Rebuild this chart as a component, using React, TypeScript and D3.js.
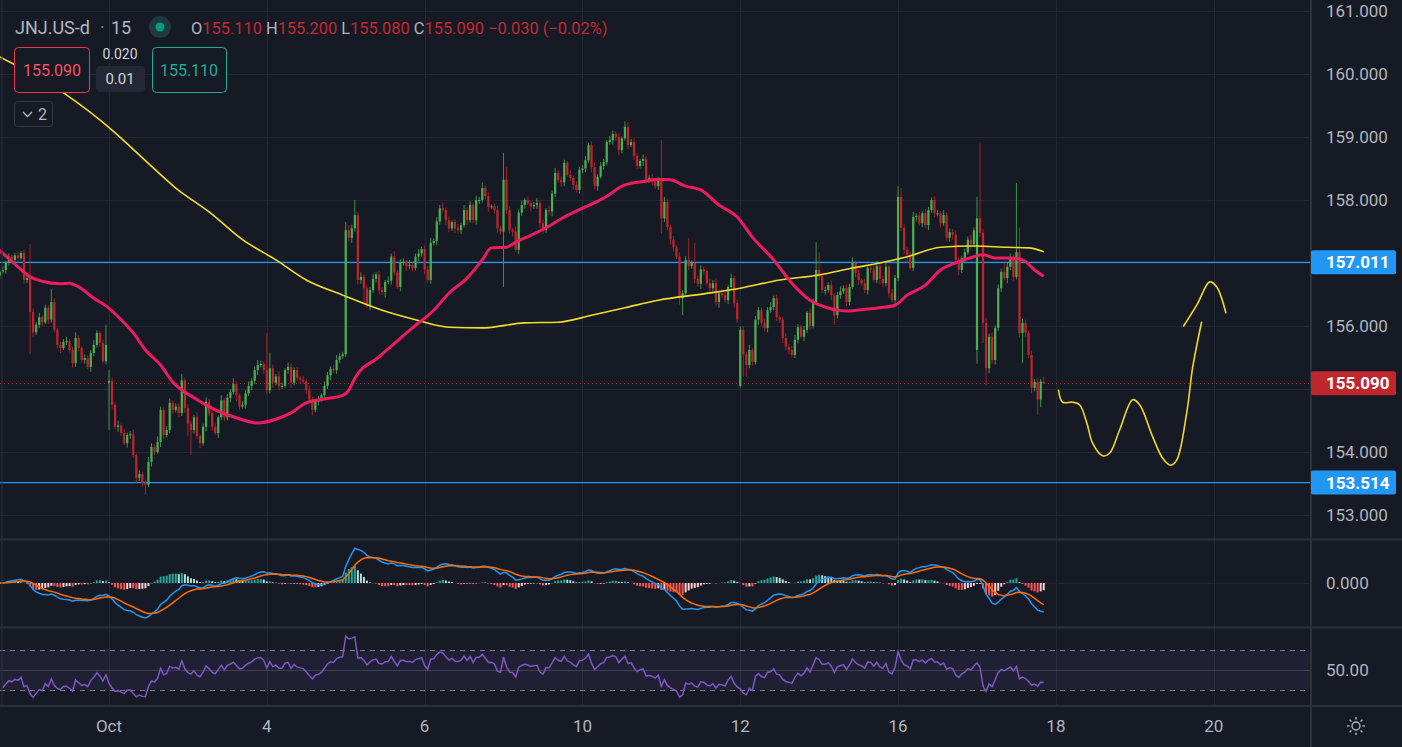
import { useEffect, useRef } from 'react';
import * as d3 from 'd3';

// 15-minute closes, one row per session (first row is the tail of the previous week)
const closes = [
  156.86, 156.89, 157.0, 157.1, 157.05, 157.12, 157.08, 157.16, 156.73, 156.76,
  156.22, 155.9, 156.02, 156.14, 156.06, 156.29, 156.1, 156.38, 155.94, 155.7,
  155.65, 155.75, 155.76, 155.62, 155.41, 155.81, 155.65, 155.46, 155.49, 155.35,
  155.57, 155.7, 155.89, 155.73, 155.44, 155.7,
  // Oct 2
  155.13, 154.75, 154.4, 154.42, 154.3, 154.14, 154.27, 154.28, 153.95, 153.59,
  153.65, 153.51, 153.48, 153.84, 154.08, 154.0, 154.16, 154.67, 154.27, 154.35,
  154.78, 154.67, 154.72, 154.62, 155.14, 154.7,
  // Oct 3
  154.45, 154.35, 154.55, 154.25, 154.14, 154.4, 154.8, 154.62, 154.4, 154.3,
  154.55, 154.82, 154.55, 154.86, 154.95, 155.08, 154.9, 154.72, 154.75, 154.93,
  155.05, 155.13, 155.3, 155.38, 155.4, 155.3,
  // Oct 4
  154.98, 155.33, 155.1, 155.2, 155.05, 155.05, 155.3, 155.35, 155.1, 155.3,
  155.18, 155.15, 155.12, 154.98, 154.83, 154.67, 154.8, 154.83, 154.9, 155.05,
  155.22, 155.32, 155.3, 155.46, 155.52, 155.55,
  // Oct 5
  157.52, 157.4, 157.55, 157.76, 156.73, 156.78, 156.6, 156.33, 156.57, 156.75,
  156.82, 156.57, 156.54, 156.7, 156.72, 157.1, 156.85, 156.62, 157.0, 157.02,
  156.95, 156.97, 156.92, 157.1, 157.15, 157.22,
  // Oct 6
  156.9, 156.73, 157.32, 157.35, 157.66, 157.87, 157.84, 157.68, 157.55, 157.65,
  157.55, 157.52, 157.6, 157.84, 157.68, 157.92, 157.68, 158.0, 158.0, 158.19,
  158.06, 157.89, 157.9, 157.84, 157.55, 157.5,
  // Oct 9
  158.32, 157.84, 157.52, 157.5, 157.21, 157.8, 157.92, 158.0, 157.95, 157.9,
  157.92, 157.95, 157.63, 157.52, 157.84, 157.82, 158.1, 158.43, 158.32, 158.28,
  158.59, 158.4, 158.35, 158.24, 158.16, 158.48,
  // Oct 10
  158.5, 158.63, 158.87, 158.52, 158.22, 158.37, 158.54, 158.6, 158.92, 158.95,
  159.05, 159.0, 158.79, 158.98, 159.16, 158.87, 158.92, 158.7, 158.54, 158.62,
  158.65, 158.32, 158.35, 158.3, 158.22, 158.32,
  // Oct 11
  157.71, 157.97, 157.57, 157.37, 157.25, 157.1, 156.44, 156.52, 157.05, 156.95,
  157.0, 156.75, 156.67, 156.9, 156.87, 156.68, 156.6, 156.68, 156.38, 156.52,
  156.49, 156.41, 156.62, 156.76, 156.36, 156.1,
  // Oct 12
  155.94, 155.55, 155.38, 155.62, 155.43, 156.1, 156.25, 156.05, 155.97, 156.25,
  156.3, 156.44, 156.14, 156.1, 155.81, 155.67, 155.62, 155.54, 155.78, 155.98,
  155.83, 155.94, 156.21, 156.0, 156.38, 156.89,
  // Oct 13
  156.79, 156.57, 156.57, 156.65, 156.49, 156.17, 156.49, 156.55, 156.6, 156.38,
  156.62, 157.0, 156.84, 156.73, 156.68, 156.57, 156.92, 156.9, 156.73, 156.95,
  156.75, 156.68, 156.94, 156.52, 156.41, 156.76,
  // Oct 16
  158.05, 157.56, 157.21, 157.13, 156.92, 157.73, 157.75, 157.63, 157.79, 157.6,
  157.84, 158.0, 157.79, 157.79, 157.63, 157.76, 157.4, 157.49, 157.45, 157.05,
  156.89, 157.08, 157.17, 157.37, 157.3, 157.52,
  // Oct 17
  157.71, 157.48, 156.05, 155.33, 155.83, 155.46, 155.97, 156.6, 156.86, 156.76,
  156.94, 157.1, 156.78, 157.17, 155.89, 156.05, 155.89, 155.54, 155.02, 155.11,
  154.83, 155.12, 155.09,
];

// bars whose open is not the previous close (session gaps) [bar, open]
const gapOpens: [number, number][] = [
  [0, 156.8], [36, 155.1], [244, 155.05], [322, 155.62], [344, 155.11],
];

// wick lengths beyond the body, in cents
const wickUp = [
  4, 6, 3, 5, 3, 4, 6, 3, 5, 8, 54, 6, 4, 7, 3, 5, 4, 21, 6, 3, 5, 4, 7, 3, 5, 9, 4, 3, 6, 4, 5, 8, 4, 3, 6, 32,
  17, 5, 4, 8, 3, 6, 4, 5, 7, 3, 6, 4, 5, 8, 6, 4, 9, 5, 4, 6, 7, 4, 5, 6, 10, 4,
  6, 5, 4, 8, 3, 5, 7, 4, 6, 5, 3, 8, 4, 6, 5, 9, 4, 3, 6, 5, 7, 4, 6, 8, 5, 4,
  59, 25, 6, 4, 8, 5, 3, 7, 6, 4, 5, 3, 6, 4, 8, 5, 4, 6, 3, 7, 5, 4, 6, 8, 5, 4,
  13, 8, 6, 24, 5, 7, 4, 6, 5, 8, 4, 6, 5, 3, 7, 5, 9, 4, 6, 5, 3, 8, 4, 5, 7, 4,
  6, 5, 8, 4, 7, 5, 9, 4, 6, 3, 5, 7, 4, 8, 5, 6, 4, 7, 5, 9, 4, 6, 3, 5, 7, 4,
  43, 20, 6, 4, 8, 5, 7, 3, 6, 4, 5, 8, 4, 6, 3, 7, 5, 8, 4, 6, 5, 3, 7, 4, 6, 5,
  5, 7, 4, 6, 8, 4, 6, 5, 3, 7, 5, 4, 6, 3, 9, 8, 5, 6, 4, 3, 7, 5, 4, 6, 5, 4,
  63, 8, 5, 4, 6, 3, 7, 5, 6, 35, 4, 32, 5, 6, 4, 3, 7, 5, 8, 4, 6, 5, 3, 7, 4, 6,
  5, 6, 4, 8, 3, 6, 5, 4, 7, 5, 8, 4, 6, 3, 5, 7, 4, 6, 8, 5, 4, 6, 3, 7, 5, 44,
  28, 5, 6, 4, 7, 3, 5, 8, 4, 6, 5, 9, 4, 6, 3, 7, 5, 4, 6, 8, 5, 4, 6, 3, 7, 5,
  17, 14, 6, 4, 5, 8, 4, 6, 3, 7, 5, 4, 6, 5, 3, 8, 4, 6, 5, 7, 4, 3, 6, 5, 8, 4,
  34, 119, 6, 8, 5, 7, 4, 6, 5, 14, 6, 5, 4, 110, 39, 6, 5, 4, 7, 5, 6, 4, 9,
];
const wickDown = [
  5, 3, 6, 4, 5, 3, 7, 4, 6, 5, 67, 8, 4, 5, 6, 3, 7, 5, 4, 6, 8, 3, 5, 4, 7, 6, 5, 4, 6, 3, 8, 5, 4, 6, 3, 5,
  75, 6, 4, 8, 5, 3, 7, 6, 4, 9, 5, 6, 16, 4, 7, 5, 3, 8, 6, 4, 5, 7, 4, 6, 5, 8,
  20, 40, 6, 5, 8, 4, 7, 5, 6, 3, 8, 4, 6, 5, 7, 4, 9, 5, 3, 6, 4, 7, 5, 8, 4, 6,
  6, 5, 8, 4, 7, 5, 3, 6, 8, 4, 5, 7, 4, 6, 5, 9, 4, 6, 3, 7, 5, 8, 4, 6, 5, 4,
  4, 6, 8, 5, 7, 6, 25, 5, 8, 4, 6, 7, 5, 9, 4, 6, 5, 3, 7, 4, 8, 5, 6, 4, 7, 5,
  8, 5, 6, 4, 7, 5, 3, 8, 6, 4, 7, 5, 6, 3, 8, 4, 5, 7, 6, 4, 5, 8, 3, 6, 7, 5,
  88, 6, 5, 8, 4, 7, 5, 6, 3, 8, 4, 6, 7, 5, 4, 6, 8, 5, 4, 7, 6, 3, 5, 8, 4, 6,
  5, 6, 4, 8, 5, 7, 3, 6, 5, 4, 7, 6, 8, 5, 4, 6, 3, 7, 5, 4, 8, 6, 5, 7, 4, 6,
  24, 6, 5, 8, 7, 4, 10, 27, 5, 6, 4, 7, 5, 8, 6, 4, 7, 5, 6, 9, 5, 4, 6, 5, 7, 5,
  3, 36, 19, 5, 6, 4, 8, 5, 6, 7, 4, 5, 6, 5, 8, 6, 7, 4, 5, 6, 3, 7, 5, 6, 4, 5,
  6, 5, 7, 4, 8, 15, 5, 6, 4, 7, 5, 3, 6, 8, 4, 5, 7, 6, 4, 5, 8, 6, 5, 7, 4, 6,
  5, 6, 8, 13, 3, 5, 7, 4, 6, 5, 8, 4, 6, 5, 7, 4, 5, 6, 8, 4, 8, 5, 6, 4, 7, 5,
  22, 7, 32, 27, 8, 6, 7, 5, 6, 4, 8, 5, 6, 4, 7, 48, 6, 5, 8, 6, 24, 12, 1,
];

// moving averages [bar, price]
const slowMa: [number, number][] = [
  [0, 160.27], [21, 159.7], [37, 159.11], [47, 158.67], [58, 158.19], [69, 157.81],
  [80, 157.37], [91, 157.05], [101, 156.73], [113, 156.49], [126, 156.25], [137, 156.1],
  [148, 155.98], [159, 155.97], [173, 156.05], [184, 156.06], [195, 156.17], [206, 156.29],
  [217, 156.41], [232, 156.51], [244, 156.6], [257, 156.73], [270, 156.81], [281, 156.92],
  [290, 157.0], [299, 157.1], [310, 157.25], [321, 157.27], [332, 157.25], [339, 157.24],
  [344, 157.18],
];
const fastMa: [number, number][] = [
  [0, 157.2], [6, 156.94], [10, 156.78], [14, 156.71], [20, 156.67], [23, 156.68],
  [26, 156.62], [31, 156.44], [35, 156.32], [40, 156.1], [44, 155.89], [48, 155.62],
  [53, 155.38], [57, 155.11], [64, 154.86], [71, 154.67], [77, 154.56], [85, 154.46],
  [91, 154.52], [96, 154.62], [101, 154.78], [107, 154.84], [113, 154.9], [115, 154.98],
  [117, 155.17], [125, 155.51], [136, 155.97], [143, 156.25], [148, 156.52], [154, 156.76],
  [159, 157.05], [162, 157.24], [167, 157.25], [170, 157.33], [175, 157.44], [180, 157.56],
  [186, 157.73], [193, 157.89], [199, 158.03], [206, 158.24], [213, 158.3], [217, 158.33],
  [221, 158.32], [226, 158.22], [231, 158.16], [237, 157.92], [243, 157.73], [248, 157.41],
  [255, 157.05], [261, 156.68], [267, 156.41], [272, 156.3], [279, 156.24], [286, 156.27],
  [290, 156.29], [295, 156.33], [299, 156.49], [305, 156.65], [310, 156.89], [316, 157.02],
  [321, 157.1], [324, 157.13], [328, 157.08], [332, 157.08], [337, 157.05], [341, 156.89],
  [344, 156.79],
];

// hand-drawn projection strokes [bar, price]
const projectionA: [number, number][] = [
  [348.9, 154.98], [350.2, 154.79], [353.5, 154.79], [355.8, 154.75], [358.2, 154.46],
  [360.1, 154.14], [363.4, 153.94], [365.7, 153.98], [369.0, 154.35], [373.3, 154.83],
  [375.6, 154.75], [379.9, 154.24], [383.2, 153.9], [385.8, 153.79], [387.8, 153.87],
  [391.1, 154.62], [393.1, 155.35], [396.0, 156.06],
];
const projectionB: [number, number][] = [
  [390.1, 156.0], [394.4, 156.33], [398.7, 156.7], [401.0, 156.62], [404.0, 156.21],
];

const levelLines = [157.011, 153.514];
const lastPrice = 155.09;
const priceTicks = [153, 154, 155, 156, 157, 158, 159, 160, 161];
const dayTicks: [number, string][] = [
  [36, 'Oct'], [88, '4'], [140, '6'], [192, '10'], [244, '12'], [296, '16'], [348, '18'], [400, '20'],
];

const FONT = 'Roboto, "Noto Sans", sans-serif';
const BG = '#161a25';
const GRID = '#232733';
const SEP = '#2c303c';
const AXIS_TEXT = '#b2b5be';
const LEGEND_RED = '#c4282f';
const UP = '#4caf50';
const DOWN = '#c2242b';

function ema(values: number[], n: number) {
  const k = 2 / (n + 1);
  const out: number[] = [];
  let prev = values[0];
  values.forEach((v, i) => {
    prev = i === 0 ? v : v * k + prev * (1 - k);
    out.push(prev);
  });
  return out;
}

export default function App() {
  const svgRef = useRef<SVGSVGElement>(null);

  useEffect(() => {
    if (!svgRef.current) return;
    document.body.style.margin = '0';

    const width = 1402;
    const height = 747;
    const plotRight = 1311;
    const mainBottom = 538;
    const macdTop = 541;
    const macdBottom = 626;
    const rsiTop = 629;
    const rsiBottom = 705;

    const svg = d3.select(svgRef.current);
    svg.selectAll('*').remove();
    svg.attr('width', width).attr('height', height).style('font-family', FONT);

    // Scales
    const x = d3.scaleLinear().domain([36, 400]).range([109, 1213.7]);
    const y = d3.scaleLinear().domain([153, 161]).range([515, 11]);
    const yRsi = d3.scaleLinear().domain([30, 70]).range([690, 650]);

    // Candles
    const candles = closes.map((c, i) => {
      const gap = gapOpens.find((g) => g[0] === i);
      const o = gap ? gap[1] : closes[i - 1];
      return {
        i,
        o,
        c,
        h: Math.max(o, c) + wickUp[i] / 100,
        l: Math.min(o, c) - wickDown[i] / 100,
      };
    });

    // MACD 12/26/9
    const e12 = ema(closes, 12);
    const e26 = ema(closes, 26);
    const macd = closes.map((_, i) => e12[i] - e26[i]);
    const signal = ema(macd, 9);
    const hist = macd.map((m, i) => m - signal[i]);
    const ext = d3.max([...macd, ...signal].map(Math.abs)) || 1;
    const yMacd = d3.scaleLinear().domain([-ext, ext]).range([583 + 35, 583 - 35]);

    // RSI 14 (Wilder), seeded with the first window's average
    const changes = closes.slice(1).map((c, i) => c - closes[i]);
    let avgGain = d3.mean(changes.slice(0, 14), (d) => Math.max(d, 0)) || 0;
    let avgLoss = d3.mean(changes.slice(0, 14), (d) => Math.max(-d, 0)) || 0;
    const rsi: [number, number][] = [];
    changes.forEach((ch, k) => {
      avgGain = (avgGain * 13 + Math.max(ch, 0)) / 14;
      avgLoss = (avgLoss * 13 + Math.max(-ch, 0)) / 14;
      rsi.push([k + 1, avgLoss === 0 ? 100 : 100 - 100 / (1 + avgGain / avgLoss)]);
    });

    // Background
    svg.append('rect').attr('width', width).attr('height', height).attr('fill', BG);

    // Grid
    const grid = svg.append('g').attr('stroke', GRID).attr('stroke-width', 1);
    dayTicks.forEach(([i]) => {
      grid.append('line')
        .attr('x1', Math.round(x(i)) + 0.5).attr('x2', Math.round(x(i)) + 0.5)
        .attr('y1', 0).attr('y2', rsiBottom);
    });
    priceTicks.forEach((p) => {
      grid.append('line')
        .attr('x1', 0).attr('x2', plotRight)
        .attr('y1', Math.round(y(p)) + 0.5).attr('y2', Math.round(y(p)) + 0.5);
    });
    grid.append('line').attr('x1', 0).attr('x2', plotRight).attr('y1', 583.5).attr('y2', 583.5);

    // Clips for the panes
    const defs = svg.append('defs');
    defs.append('clipPath').attr('id', 'main-clip')
      .append('rect').attr('x', 0).attr('y', 0).attr('width', plotRight).attr('height', mainBottom);
    defs.append('clipPath').attr('id', 'macd-clip')
      .append('rect').attr('x', 0).attr('y', macdTop).attr('width', plotRight).attr('height', macdBottom - macdTop);
    defs.append('clipPath').attr('id', 'rsi-clip')
      .append('rect').attr('x', 0).attr('y', rsiTop).attr('width', plotRight).attr('height', rsiBottom - rsiTop);

    const main = svg.append('g').attr('clip-path', 'url(#main-clip)');

    // Horizontal levels
    levelLines.forEach((p) => {
      main.append('line')
        .attr('x1', 0).attr('x2', plotRight)
        .attr('y1', y(p)).attr('y2', y(p))
        .attr('stroke', '#2196f3').attr('stroke-width', 1.2);
    });

    // Last price dotted line
    main.append('line')
      .attr('x1', 0).attr('x2', plotRight)
      .attr('y1', Math.round(y(lastPrice)) + 0.5).attr('y2', Math.round(y(lastPrice)) + 0.5)
      .attr('stroke', '#b22833').attr('stroke-width', 1).attr('stroke-dasharray', '1,3');

    // Wicks
    main.selectAll('.wick')
      .data(candles)
      .enter()
      .append('line')
      .attr('x1', (d) => x(d.i)).attr('x2', (d) => x(d.i))
      .attr('y1', (d) => y(d.h)).attr('y2', (d) => y(d.l))
      .attr('stroke', (d) => (d.c >= d.o ? UP : DOWN))
      .attr('stroke-opacity', 0.8)
      .attr('stroke-width', 1);

    // Bodies
    main.selectAll('.body')
      .data(candles)
      .enter()
      .append('rect')
      .attr('x', (d) => x(d.i) - 1.1)
      .attr('width', 2.2)
      .attr('y', (d) => y(Math.max(d.o, d.c)))
      .attr('height', (d) => Math.max(1, Math.abs(y(d.o) - y(d.c))))
      .attr('fill', (d) => (d.c >= d.o ? UP : DOWN));

    // Moving averages
    const priceLine = d3.line<[number, number]>()
      .x((d) => x(d[0]))
      .y((d) => y(d[1]))
      .curve(d3.curveMonotoneX);
    main.append('path').attr('d', priceLine(slowMa))
      .attr('fill', 'none').attr('stroke', '#f5dc2a').attr('stroke-width', 1.6);
    main.append('path').attr('d', priceLine(fastMa))
      .attr('fill', 'none').attr('stroke', '#ec1c5e').attr('stroke-width', 3);

    // Projection drawing
    const sketch = d3.line<[number, number]>()
      .x((d) => x(d[0]))
      .y((d) => y(d[1]))
      .curve(d3.curveCatmullRom.alpha(0.5));
    [projectionA, projectionB].forEach((pts) => {
      main.append('path').attr('d', sketch(pts))
        .attr('fill', 'none').attr('stroke', '#f0d52c').attr('stroke-width', 1.6)
        .attr('stroke-linecap', 'round');
    });

    // MACD pane
    const macdG = svg.append('g').attr('clip-path', 'url(#macd-clip)');
    macdG.selectAll('.hist')
      .data(hist)
      .enter()
      .append('rect')
      .attr('x', (_, i) => x(i) - 1)
      .attr('width', 2)
      .attr('y', (d) => Math.min(yMacd(d), yMacd(0)))
      .attr('height', (d) => Math.abs(yMacd(d) - yMacd(0)))
      .attr('fill', (d, i) => {
        const prev = i > 0 ? hist[i - 1] : d;
        if (d >= 0) return d >= prev ? '#26a69a' : '#b2dfdb';
        return d <= prev ? '#ff5252' : '#ffcdd2';
      });
    const macdLine = d3.line<number>()
      .x((_, i) => x(i))
      .y((d) => yMacd(d));
    macdG.append('path').attr('d', macdLine(macd))
      .attr('fill', 'none').attr('stroke', '#2196f3').attr('stroke-width', 1.5);
    macdG.append('path').attr('d', macdLine(signal))
      .attr('fill', 'none').attr('stroke', '#ff6d00').attr('stroke-width', 1.5);

    // RSI pane
    const rsiG = svg.append('g').attr('clip-path', 'url(#rsi-clip)');
    rsiG.append('rect')
      .attr('x', 0).attr('width', plotRight)
      .attr('y', yRsi(70)).attr('height', yRsi(30) - yRsi(70))
      .attr('fill', '#7e57c2').attr('fill-opacity', 0.1);
    [70, 30].forEach((v) => {
      rsiG.append('line')
        .attr('x1', 0).attr('x2', plotRight)
        .attr('y1', Math.round(yRsi(v)) + 0.5).attr('y2', Math.round(yRsi(v)) + 0.5)
        .attr('stroke', '#787b86').attr('stroke-dasharray', '5,5');
    });
    rsiG.append('line')
      .attr('x1', 0).attr('x2', plotRight)
      .attr('y1', Math.round(yRsi(50)) + 0.5).attr('y2', Math.round(yRsi(50)) + 0.5)
      .attr('stroke', '#787b86').attr('stroke-opacity', 0.35);
    const rsiLine = d3.line<[number, number]>()
      .x((d) => x(d[0]))
      .y((d) => yRsi(d[1]));
    rsiG.append('path').attr('d', rsiLine(rsi))
      .attr('fill', 'none').attr('stroke', '#7e57c2').attr('stroke-width', 1.5);

    // Separators
    const sep = svg.append('g').attr('stroke', SEP).attr('stroke-width', 2);
    sep.append('line').attr('x1', 0).attr('x2', width).attr('y1', 539.5).attr('y2', 539.5);
    sep.append('line').attr('x1', 0).attr('x2', width).attr('y1', 627.5).attr('y2', 627.5);
    sep.append('line').attr('x1', 0).attr('x2', width).attr('y1', 706).attr('y2', 706);
    sep.append('line').attr('x1', plotRight).attr('x2', plotRight).attr('y1', 0).attr('y2', height);
    sep.append('line').attr('x1', 2).attr('x2', 2).attr('y1', 0).attr('y2', 706).attr('stroke-width', 1);

    // Price axis (ticks hidden where a price tag sits on top of them)
    const tags: [number, string][] = [
      [levelLines[0], '#2196f3'],
      [levelLines[1], '#2196f3'],
      [lastPrice, '#c0262d'],
    ];
    const axis = svg.append('g').attr('font-size', 17).attr('fill', AXIS_TEXT);
    priceTicks
      .filter((p) => tags.every(([t]) => Math.abs(y(p) - y(t)) > 20))
      .forEach((p) => {
        axis.append('text').attr('x', 1326).attr('y', y(p)).attr('dy', '0.35em').text(p.toFixed(3));
      });
    axis.append('text').attr('x', 1326).attr('y', yMacd(0)).attr('dy', '0.35em').text('0.000');
    axis.append('text').attr('x', 1326).attr('y', yRsi(50)).attr('dy', '0.35em').text('50.00');

    tags.forEach(([p, color]) => {
      svg.append('rect')
        .attr('x', plotRight).attr('y', y(p) - 12).attr('width', 85).attr('height', 24)
        .attr('rx', 2).attr('fill', color);
      svg.append('text')
        .attr('x', 1326).attr('y', y(p)).attr('dy', '0.36em')
        .attr('font-size', 17).attr('font-weight', 700).attr('fill', '#ffffff')
        .text(p.toFixed(3));
    });

    // Time axis
    dayTicks.forEach(([i, label]) => {
      axis.append('text')
        .attr('x', x(i)).attr('y', 726).attr('dy', '0.35em')
        .style('text-anchor', 'middle')
        .text(label);
    });
    const sun = svg.append('g').attr('transform', 'translate(1356,726)')
      .attr('stroke', AXIS_TEXT).attr('stroke-width', 1.4).attr('fill', 'none');
    sun.append('circle').attr('r', 4);
    d3.range(8).forEach((k) => {
      const a = (k * Math.PI) / 4;
      sun.append('line')
        .attr('x1', Math.cos(a) * 6.5).attr('y1', Math.sin(a) * 6.5)
        .attr('x2', Math.cos(a) * 9).attr('y2', Math.sin(a) * 9);
    });

    // Legend / header
    const head = svg.append('g');
    head.append('text').attr('x', 15).attr('y', 34).attr('font-size', 18).attr('fill', AXIS_TEXT)
      .text('JNJ.US-d');
    head.append('text').attr('x', 100).attr('y', 34).attr('font-size', 18).attr('fill', '#787b86')
      .text('·');
    head.append('text').attr('x', 111).attr('y', 34).attr('font-size', 18).attr('fill', AXIS_TEXT)
      .text('15');
    head.append('circle').attr('cx', 160).attr('cy', 27).attr('r', 11).attr('fill', '#1e3a3c');
    head.append('circle').attr('cx', 160).attr('cy', 27).attr('r', 4.5).attr('fill', '#089981');

    const ohlc = head.append('text').attr('x', 191).attr('y', 34).attr('font-size', 16.4);
    const parts: [string, string][] = [
      ['O', AXIS_TEXT], ['155.110', LEGEND_RED], [' H', AXIS_TEXT], ['155.200', LEGEND_RED],
      [' L', AXIS_TEXT], ['155.080', LEGEND_RED], [' C', AXIS_TEXT], ['155.090', LEGEND_RED],
      [' −0.030 (−0.02%)', LEGEND_RED],
    ];
    parts.forEach(([t, c]) => ohlc.append('tspan').attr('fill', c).text(t));

    head.append('rect').attr('x', 14.5).attr('y', 47.5).attr('width', 75).attr('height', 45)
      .attr('rx', 4).attr('fill', BG).attr('stroke', '#f23645');
    head.append('text').attr('x', 52).attr('y', 70).attr('dy', '0.35em').attr('font-size', 16)
      .style('text-anchor', 'middle').attr('fill', '#f7525f').text('155.090');
    head.append('text').attr('x', 120).attr('y', 54).attr('dy', '0.35em').attr('font-size', 14)
      .style('text-anchor', 'middle').attr('fill', '#d1d4dc').text('0.020');
    head.append('rect').attr('x', 96).attr('y', 66).attr('width', 49).attr('height', 26)
      .attr('rx', 4).attr('fill', '#242834');
    head.append('text').attr('x', 120).attr('y', 79).attr('dy', '0.35em').attr('font-size', 15)
      .style('text-anchor', 'middle').attr('fill', '#d1d4dc').text('0.01');
    head.append('rect').attr('x', 152.5).attr('y', 47.5).attr('width', 74).attr('height', 45)
      .attr('rx', 4).attr('fill', BG).attr('stroke', '#22ab94');
    head.append('text').attr('x', 189).attr('y', 70).attr('dy', '0.35em').attr('font-size', 16)
      .style('text-anchor', 'middle').attr('fill', '#22ab94').text('155.110');

    head.append('rect').attr('x', 14.5).attr('y', 101.5).attr('width', 38).attr('height', 25)
      .attr('rx', 3).attr('fill', BG).attr('stroke', '#363a45');
    head.append('path').attr('d', 'M23,112 L27.5,116.5 L32,112')
      .attr('fill', 'none').attr('stroke', AXIS_TEXT).attr('stroke-width', 1.4);
    head.append('text').attr('x', 38).attr('y', 114).attr('dy', '0.35em').attr('font-size', 16)
      .attr('fill', AXIS_TEXT).text('2');
  }, []);

  return (
    <svg
      ref={svgRef}
      width={1402}
      height={747}
      style={{ position: 'absolute', left: 0, top: 0, display: 'block' }}
    />
  );
}
